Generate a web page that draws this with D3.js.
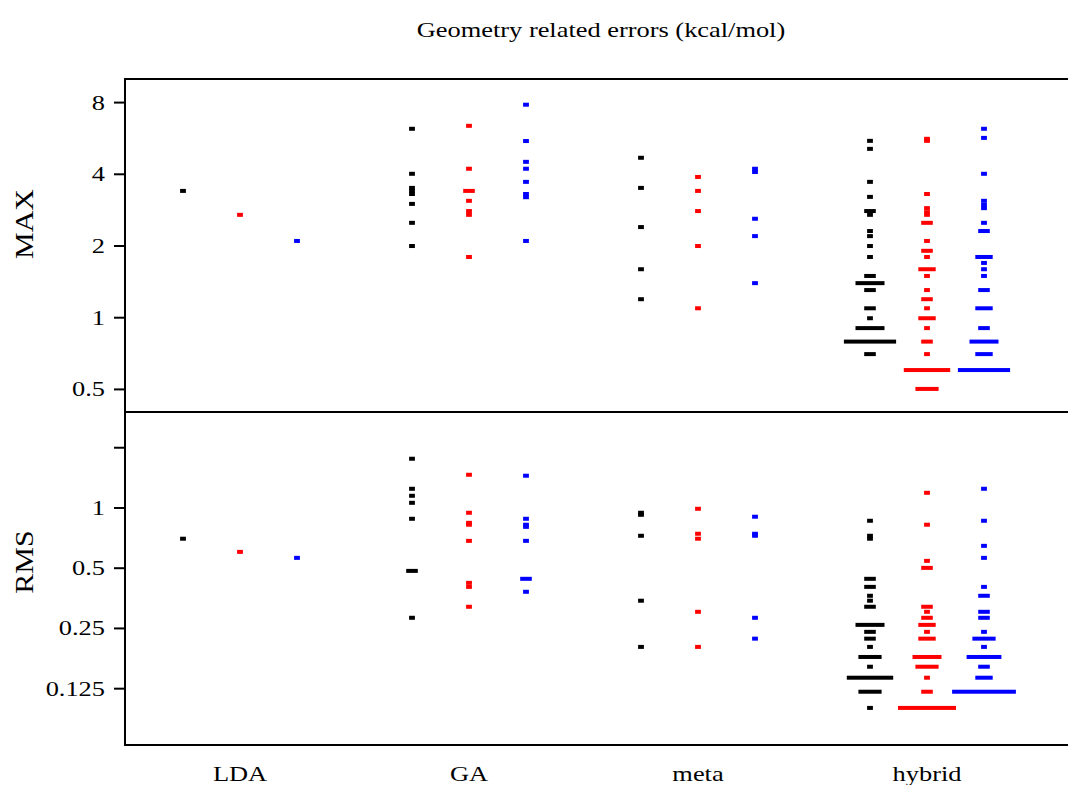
<!DOCTYPE html>
<html>
<head>
<meta charset="utf-8">
<script src="https://cdn.jsdelivr.net/npm/d3@7"></script>
<style>
  body { margin: 0; background: #fff; }
  text { font-family: "Liberation Serif", "Times New Roman", serif; fill: #000; }
</style>
</head>
<body>
<div id="viz-container"></div>
<script>
// categorias e séries
const categories = ["LDA", "GA", "meta", "hybrid"];
const seriesColors = ["#000000", "#ff0000", "#0000ff"];

const maxTicks = [0.5, 1, 2, 4, 8];
const maxTickLabels = ["0.5", "1", "2", "4", "8"];
const rmsTicks = [0.125, 0.25, 0.5, 1, 2];
const rmsTickLabels = ["0.125", "0.25", "0.5", "1", ""];

// MAX (kcal/mol), uma lista por série: preto, vermelho, azul
const maxLDA = [[3.39], [2.69], [2.09]];
const maxGA = [
  [6.18, 4.0, 3.49, 3.39, 3.29, 2.99, 2.49, 1.99],
  [6.36, 4.2, 3.39, 3.39, 3.08, 2.79, 2.69, 1.79],
  [7.8, 5.49, 4.49, 4.2, 3.7, 3.29, 3.19, 2.09]
];
const maxMeta = [
  [4.67, 3.49, 2.39, 1.59, 1.19],
  [3.88, 3.39, 2.79, 1.99, 1.09],
  [4.2, 4.07, 2.59, 2.19, 1.39]
];
const maxHybrid = [
  [5.5, 5.09, 3.7, 3.2, 2.79, 2.79, 2.69, 2.3, 2.19, 1.99, 1.79, 1.49, 1.49,
   1.39, 1.39, 1.39, 1.39, 1.39, 1.3, 1.3, 1.09, 1.09, 0.99,
   0.9, 0.9, 0.9, 0.9, 0.9, 0.79, 0.79, 0.79, 0.79, 0.79, 0.79, 0.79, 0.79, 0.79,
   0.7, 0.7],
  [5.61, 5.5, 3.29, 2.87, 2.76, 2.69, 2.49, 2.49, 2.09, 1.9, 1.9, 1.79,
   1.59, 1.59, 1.59, 1.49, 1.3, 1.19, 1.19, 1.09, 0.99, 0.99, 0.99, 0.9,
   0.79, 0.79, 0.7, 0.6, 0.6, 0.6, 0.6, 0.6, 0.6, 0.6, 0.6, 0.5, 0.5, 0.5, 0.5],
  [6.18, 5.66, 4.0, 3.08, 2.96, 2.87, 2.49, 2.3, 2.3, 1.79, 1.79, 1.79, 1.69,
   1.59, 1.49, 1.3, 1.3, 1.09, 1.09, 1.09, 0.9, 0.9,
   0.79, 0.79, 0.79, 0.79, 0.79, 0.7, 0.7, 0.7,
   0.6, 0.6, 0.6, 0.6, 0.6, 0.6, 0.6, 0.6, 0.6]
];

// RMS (kcal/mol)
const rmsLDA = [[0.698], [0.6], [0.56]];
const rmsGA = [
  [1.752, 1.24, 1.144, 1.055, 0.878, 0.482, 0.482, 0.281],
  [1.457, 0.941, 0.838, 0.82, 0.681, 0.42, 0.401, 0.319],
  [1.441, 0.878, 0.82, 0.8, 0.681, 0.44, 0.44, 0.379]
];
const rmsMeta = [
  [0.941, 0.919, 0.722, 0.342, 0.201],
  [0.985, 0.739, 0.698, 0.301, 0.201],
  [0.899, 0.739, 0.722, 0.281, 0.221]
];
const rmsHybrid = [
  [0.858, 0.722, 0.698, 0.44, 0.44, 0.401, 0.401, 0.362, 0.342, 0.319, 0.319,
   0.259, 0.259, 0.259, 0.259, 0.259, 0.239, 0.239, 0.221, 0.221, 0.201,
   0.179, 0.179, 0.179, 0.179, 0.16,
   0.141, 0.141, 0.141, 0.141, 0.141, 0.141, 0.141, 0.141,
   0.12, 0.12, 0.12, 0.12, 0.0996],
  [1.184, 0.82, 0.541, 0.499, 0.499, 0.319, 0.319, 0.301, 0.281, 0.281,
   0.259, 0.259, 0.259, 0.239, 0.221, 0.221, 0.221,
   0.179, 0.179, 0.179, 0.179, 0.179, 0.16, 0.16, 0.16, 0.16, 0.141, 0.12, 0.12,
   0.0996, 0.0996, 0.0996, 0.0996, 0.0996, 0.0996, 0.0996, 0.0996, 0.0996, 0.0996],
  [1.24, 0.858, 0.643, 0.56, 0.401, 0.362, 0.362, 0.301, 0.301, 0.281, 0.281,
   0.239, 0.221, 0.221, 0.221, 0.221, 0.201,
   0.179, 0.179, 0.179, 0.179, 0.179, 0.179, 0.16, 0.16, 0.141, 0.141, 0.141,
   0.12, 0.12, 0.12, 0.12, 0.12, 0.12, 0.12, 0.12, 0.12, 0.12, 0.12]
];

const maxData = [maxLDA, maxGA, maxMeta, maxHybrid];
const rmsData = [rmsLDA, rmsGA, rmsMeta, rmsHybrid];

const W = 1068, H = 785;
const plotLeft = 125, plotRight = 1068, plotTop = 79, plotMid = 412, plotBottom = 745;
const stretch = 1.2; // fonte larga do original

const svg = d3.select('#viz-container')
  .append('svg')
  .attr('width', W)
  .attr('height', H);

// escalas
const x = d3.scaleBand().domain(categories).range([125.5, 1041.5]);
const off = d3.scalePoint().domain([0, 1, 2]).range([-57, 57]);
const yMax = d3.scaleLog().domain([0.4, 10]).range([plotMid, plotTop]);
const yRms = d3.scaleLog().domain([0.065, 3]).range([plotBottom, plotMid]);

const unitW = 5.8, dashH = 4;

function drawPanel(data, y) {
  const g = svg.append('g');
  data.forEach((cat, i) => {
    cat.forEach((vals, j) => {
      const bins = d3.rollups(vals, v => v.length, d => d);
      const cx = x(categories[i]) + x.bandwidth() / 2 + off(j);
      g.selectAll(null)
        .data(bins).enter()
        .append('rect')
        .attr('x', d => cx - d[1] * unitW / 2)
        .attr('y', d => y(d[0]) - dashH / 2)
        .attr('width', d => d[1] * unitW)
        .attr('height', dashH)
        .attr('fill', seriesColors[j]);
    });
  });
}

drawPanel(maxData, yMax);
drawPanel(rmsData, yRms);

// eixos
function drawAxis(y, ticks, labels) {
  const ax = d3.axisLeft(y)
    .tickValues(ticks)
    .tickSize(11)
    .tickPadding(9)
    .tickFormat((d, i) => labels[i]);
  const g = svg.append('g').attr('transform', `translate(${plotLeft},0)`).call(ax);
  g.select('.domain').remove();
  g.selectAll('.tick line').attr('stroke', '#000').attr('stroke-width', 2);
  g.selectAll('.tick text')
    .style('font-family', '"Liberation Serif", serif')
    .style('font-size', '22px')
    .attr('fill', '#000')
    .attr('x', -20 / stretch)
    .attr('transform', `scale(${stretch},1)`);
}
drawAxis(yMax, maxTicks, maxTickLabels);
drawAxis(yRms, rmsTicks, rmsTickLabels);

// moldura
const frame = svg.append('g').attr('stroke', '#000').attr('stroke-width', 2);
frame.append('line').attr('x1', plotLeft - 1).attr('x2', plotRight).attr('y1', plotTop).attr('y2', plotTop);
frame.append('line').attr('x1', plotLeft - 1).attr('x2', plotRight).attr('y1', plotMid).attr('y2', plotMid);
frame.append('line').attr('x1', plotLeft - 1).attr('x2', plotRight).attr('y1', plotBottom).attr('y2', plotBottom);
frame.append('line').attr('x1', plotLeft).attr('x2', plotLeft).attr('y1', plotTop - 1).attr('y2', plotBottom + 1);

// títulos
svg.append('text')
  .attr('transform', `translate(601,37) scale(${stretch},1)`)
  .attr('text-anchor', 'middle')
  .style('font-size', '22px')
  .text('Geometry related errors (kcal/mol)');

svg.append('text')
  .attr('transform', `translate(33,224) rotate(-90) scale(${stretch},1)`)
  .attr('text-anchor', 'middle')
  .style('font-size', '25px')
  .text('MAX');

svg.append('text')
  .attr('transform', `translate(33,562) rotate(-90) scale(${stretch},1)`)
  .attr('text-anchor', 'middle')
  .style('font-size', '25px')
  .text('RMS');

svg.selectAll('.xlab')
  .data(categories).enter()
  .append('text')
  .attr('class', 'xlab')
  .attr('transform', d => `translate(${x(d) + x.bandwidth() / 2},781) scale(${stretch},1)`)
  .attr('text-anchor', 'middle')
  .style('font-size', '22px')
  .text(d => d);
</script>
</body>
</html>
